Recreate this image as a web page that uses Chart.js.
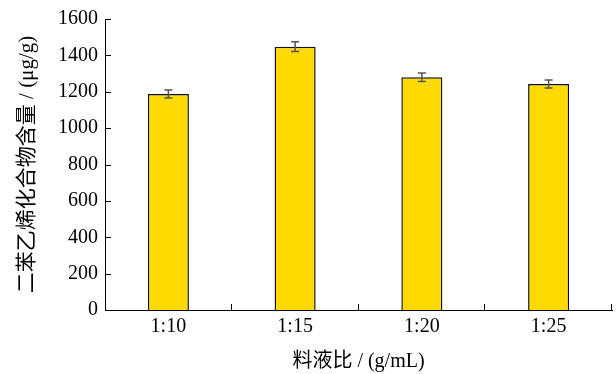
<!DOCTYPE html>
<html>
<head>
<meta charset="utf-8">
<script src="https://cdn.jsdelivr.net/npm/chart.js@4"></script>
<style>
    body { margin: 0; background: #fff; }
    #wrap { width: 616px; height: 374px; }
</style>
</head>
<body>
<div id="wrap"><canvas id="chart" width="616" height="374"></canvas></div>
<script>
// data
const ratios = ['1:10', '1:15', '1:20', '1:25'];
const content = [1188, 1448, 1280, 1242];
const errors = [22, 27, 23, 22];
const yTicks = [0, 200, 400, 600, 800, 1000, 1200, 1400, 1600];

const fontFamily = '"Liberation Serif", "Times New Roman", "Noto Sans CJK SC", serif';

// error bars and inward tick marks
const extras = {
    id: 'extras',
    afterDatasetsDraw: function(chart) {
        const ctx = chart.ctx;
        const x = chart.scales.x;
        const y = chart.scales.y;
        ctx.save();
        ctx.strokeStyle = '#555';
        ctx.lineWidth = 1.5;
        content.forEach((v, i) => {
            const px = x.getPixelForValue(i);
            const top = y.getPixelForValue(v + errors[i]);
            const bot = y.getPixelForValue(v - errors[i]);
            ctx.beginPath();
            ctx.moveTo(px, top); ctx.lineTo(px, bot);
            ctx.moveTo(px - 4, top); ctx.lineTo(px + 4, top);
            ctx.moveTo(px - 4, bot); ctx.lineTo(px + 4, bot);
            ctx.stroke();
        });
        ctx.restore();
    },
    afterDraw: function(chart) {
        const ctx = chart.ctx;
        const x = chart.scales.x;
        const y = chart.scales.y;
        const area = chart.chartArea;
        ctx.save();
        ctx.strokeStyle = '#000';
        ctx.lineWidth = 1;
        ctx.beginPath();
        yTicks.forEach(t => {
            const py = Math.round(y.getPixelForValue(t)) + 0.5;
            ctx.moveTo(area.left, py); ctx.lineTo(area.left + 6, py);
        });
        for (let i = 1; i <= ratios.length; i++) {
            const px = i < ratios.length
                ? (x.getPixelForValue(i - 1) + x.getPixelForValue(i)) / 2
                : area.right;
            const rx = Math.round(px) - 0.5;
            ctx.moveTo(rx, area.bottom); ctx.lineTo(rx, area.bottom - 6);
        }
        ctx.stroke();
        ctx.restore();
    }
};

new Chart(document.getElementById('chart'), {
    type: 'bar',
    data: {
        labels: ratios,
        datasets: [{
            data: content,
            backgroundColor: '#FFDA00',
            borderColor: '#111',
            borderWidth: 1.5,
            barPercentage: 0.324,
            categoryPercentage: 1
        }]
    },
    options: {
        responsive: false,
        animation: false,
        layout: { padding: { top: 19, right: 4, bottom: 0, left: 0 } },
        plugins: { legend: { display: false }, tooltip: { enabled: false } },
        scales: {
            x: {
                grid: { display: false, drawTicks: false },
                border: { display: true, color: '#000', width: 1 },
                ticks: { color: '#000', padding: 5, font: { family: fontFamily, size: 20 } },
                title: {
                    display: true,
                    text: '料液比 / (g/mL)',
                    color: '#000',
                    padding: { top: 0, bottom: 0 },
                    font: { family: fontFamily, size: 20 }
                },
                afterFit: function(scale) { scale.height = 64; }
            },
            y: {
                min: 0,
                max: 1600,
                grid: { display: false, drawTicks: false },
                border: { display: true, color: '#000', width: 1 },
                ticks: {
                    stepSize: 200,
                    color: '#000',
                    padding: 7,
                    font: { family: fontFamily, size: 20 },
                    callback: v => String(v)
                },
                title: {
                    display: true,
                    text: '二苯乙烯化合物含量 / (μg/g)',
                    color: '#000',
                    padding: { top: 15, bottom: 0 },
                    font: { family: fontFamily, size: 21 }
                },
                afterFit: function(scale) { scale.width = 105; }
            }
        }
    },
    plugins: [extras]
});
</script>
</body>
</html>
